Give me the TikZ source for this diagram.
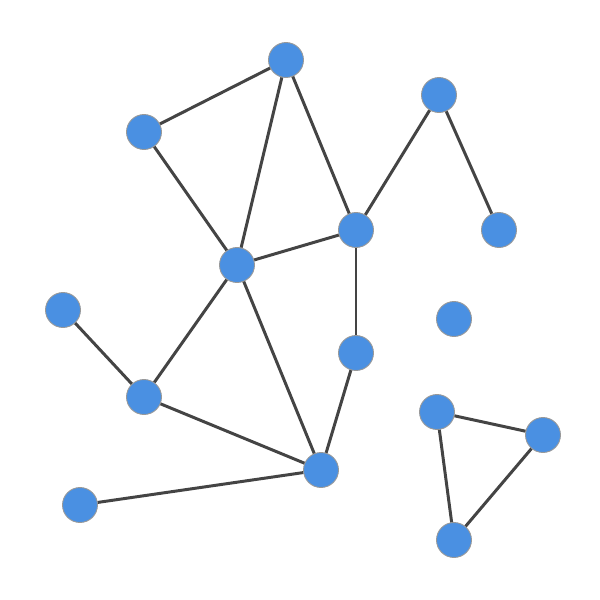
\documentclass[tikz,border=0pt]{standalone}
\usepackage{tikz}
\usetikzlibrary{positioning}
\definecolor{nodeblue}{HTML}{4A90E2}
\definecolor{edgegray}{HTML}{444444}

\begin{document}
\begin{tikzpicture}[
  x={(0.02cm,0cm)},
  y={(0cm,-0.02cm)},
  vert/.style={circle,fill=nodeblue,draw=gray!80,line width=0.5pt,minimum size=0.7cm,inner sep=0pt},
  edge/.style={edgegray,line width=1.7pt}]
\useasboundingbox (0,0) rectangle (600,600);
\node[vert] (A) at (286,60) {};
\node[vert] (B) at (144,132) {};
\node[vert] (C) at (439,95) {};
\node[vert] (D) at (356,230) {};
\node[vert] (E) at (499,230) {};
\node[vert] (F) at (237,265) {};
\node[vert] (G) at (63,310) {};
\node[vert] (H) at (454,319) {};
\node[vert] (I) at (356,353) {};
\node[vert] (J) at (144,397) {};
\node[vert] (K) at (437,412) {};
\node[vert] (L) at (543,435) {};
\node[vert] (M) at (321,470) {};
\node[vert] (N) at (80,505) {};
\node[vert] (O) at (454,540) {};
\draw[edge] (B) -- (A);
\draw[edge] (A) -- (F);
\draw[edge] (A) -- (D);
\draw[edge] (B) -- (F);
\draw[edge] (F) -- (D);
\draw[edge] (D) -- (C);
\draw[edge] (C) -- (E);
\draw[edge] (D) -- (I);
\draw[edge] (I) -- (M);
\draw[edge] (F) -- (J);
\draw[edge] (F) -- (M);
\draw[edge] (G) -- (J);
\draw[edge] (J) -- (M);
\draw[edge] (N) -- (M);
\draw[edge] (K) -- (L);
\draw[edge] (K) -- (O);
\draw[edge] (L) -- (O);
\end{tikzpicture}
\end{document}
